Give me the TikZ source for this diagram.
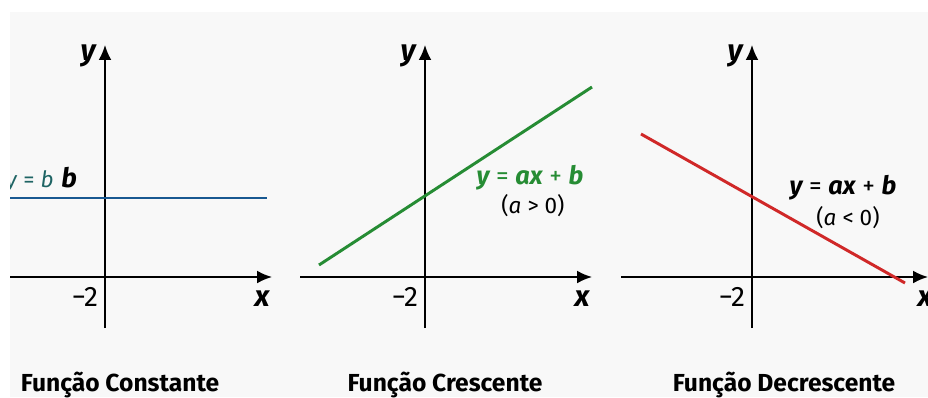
\documentclass[tikz,border=0pt]{standalone}
\usepackage{fontspec}
\setmainfont{Fira Sans}
\usetikzlibrary{arrows.meta}
\definecolor{fundo}{HTML}{F8F8F8}
\definecolor{azul}{RGB}{24,88,145}
\definecolor{verde}{RGB}{38,140,52}
\definecolor{vermelho}{RGB}{208,40,40}
\definecolor{petroleo}{RGB}{30,100,100}
\newcommand{\bi}[1]{{\bfseries\itshape #1}}
\begin{document}
\begin{tikzpicture}[x=0.025cm,y=-0.025cm,
  axis/.style={line width=1.3pt,-{Latex[length=10.5pt,width=9pt]}},
  graf/.style={line width=2.1pt},
  lbl/.style={inner sep=0pt,font=\fontsize{21}{24}\selectfont\bfseries\itshape},
  tick/.style={inner sep=0pt,font=\fontsize{20}{24}\selectfont},
  eq/.style={inner sep=0pt,font=\fontsize{18}{22}\selectfont},
  cond/.style={inner sep=0pt,font=\fontsize{16}{19}\selectfont},
  titulo/.style={inner sep=0pt,anchor=base,font=\fontsize{17.5}{21}\selectfont\bfseries}]
  \useasboundingbox (0,0) rectangle (928,397);
  \fill[fundo] (10,12) rectangle (928,397);
  \clip (10,12) rectangle (928,397);
  % eixos
  \foreach \ox/\xa/\xb/\xx/\nm in {105/10/272/262/A,425/300/592/582/B,752/621/928/925/C}{
    \coordinate (\nm-yb) at (\ox,328);
    \coordinate (\nm-yt) at (\ox,45);
    \coordinate (\nm-xl) at (\xa,277);
    \coordinate (\nm-xr) at (\xb,277);
    \draw[axis] (\nm-xl) -- (\nm-xr);
    \draw[axis] (\nm-yb) -- (\nm-yt);
    \node[lbl] (\nm-y) at (\ox-17,56) {y};
    \node[lbl] (\nm-x) at (\xx,299) {x};
    \node[tick] (\nm-t) at (\ox-20,297) {−2};
  }
  % retas
  \coordinate (A-l) at (10,198);
  \coordinate (A-r) at (267,198);
  \coordinate (B-l) at (319,265);
  \coordinate (B-r) at (592,87);
  \coordinate (C-l) at (641,134);
  \coordinate (C-r) at (905,283);
  \draw[graf,azul] (A-l) -- (A-r);
  \draw[graf,verde] (B-l) -- (B-r);
  \draw[graf,vermelho] (C-l) -- (C-r);
  \node[cond,petroleo,anchor=base east] (A-eq) at (54,187) {\textit{y} = \textit{b}};
  \node[lbl,anchor=base west,font=\fontsize{19}{22}\selectfont\bfseries\itshape] (A-b) at (61,187) {b};
  \node[eq,verde] (B-eq) at (530,178) {\bi{y} = \bi{ax} + \bi{b}};
  \node[cond] (B-c) at (533,206) {(\textit{a} > 0)};
  \node[eq] (C-eq) at (843,188) {\bi{y} = \bi{ax} + \bi{b}};
  \node[cond] (C-c) at (848,218) {(\textit{a} < 0)};
  % titulos
  \node[titulo] (A-tit) at (120,391) {Função Constante};
  \node[titulo] (B-tit) at (445,391) {Função Crescente};
  \node[titulo] (C-tit) at (784,391) {Função Decrescente};
\end{tikzpicture}
\end{document}
